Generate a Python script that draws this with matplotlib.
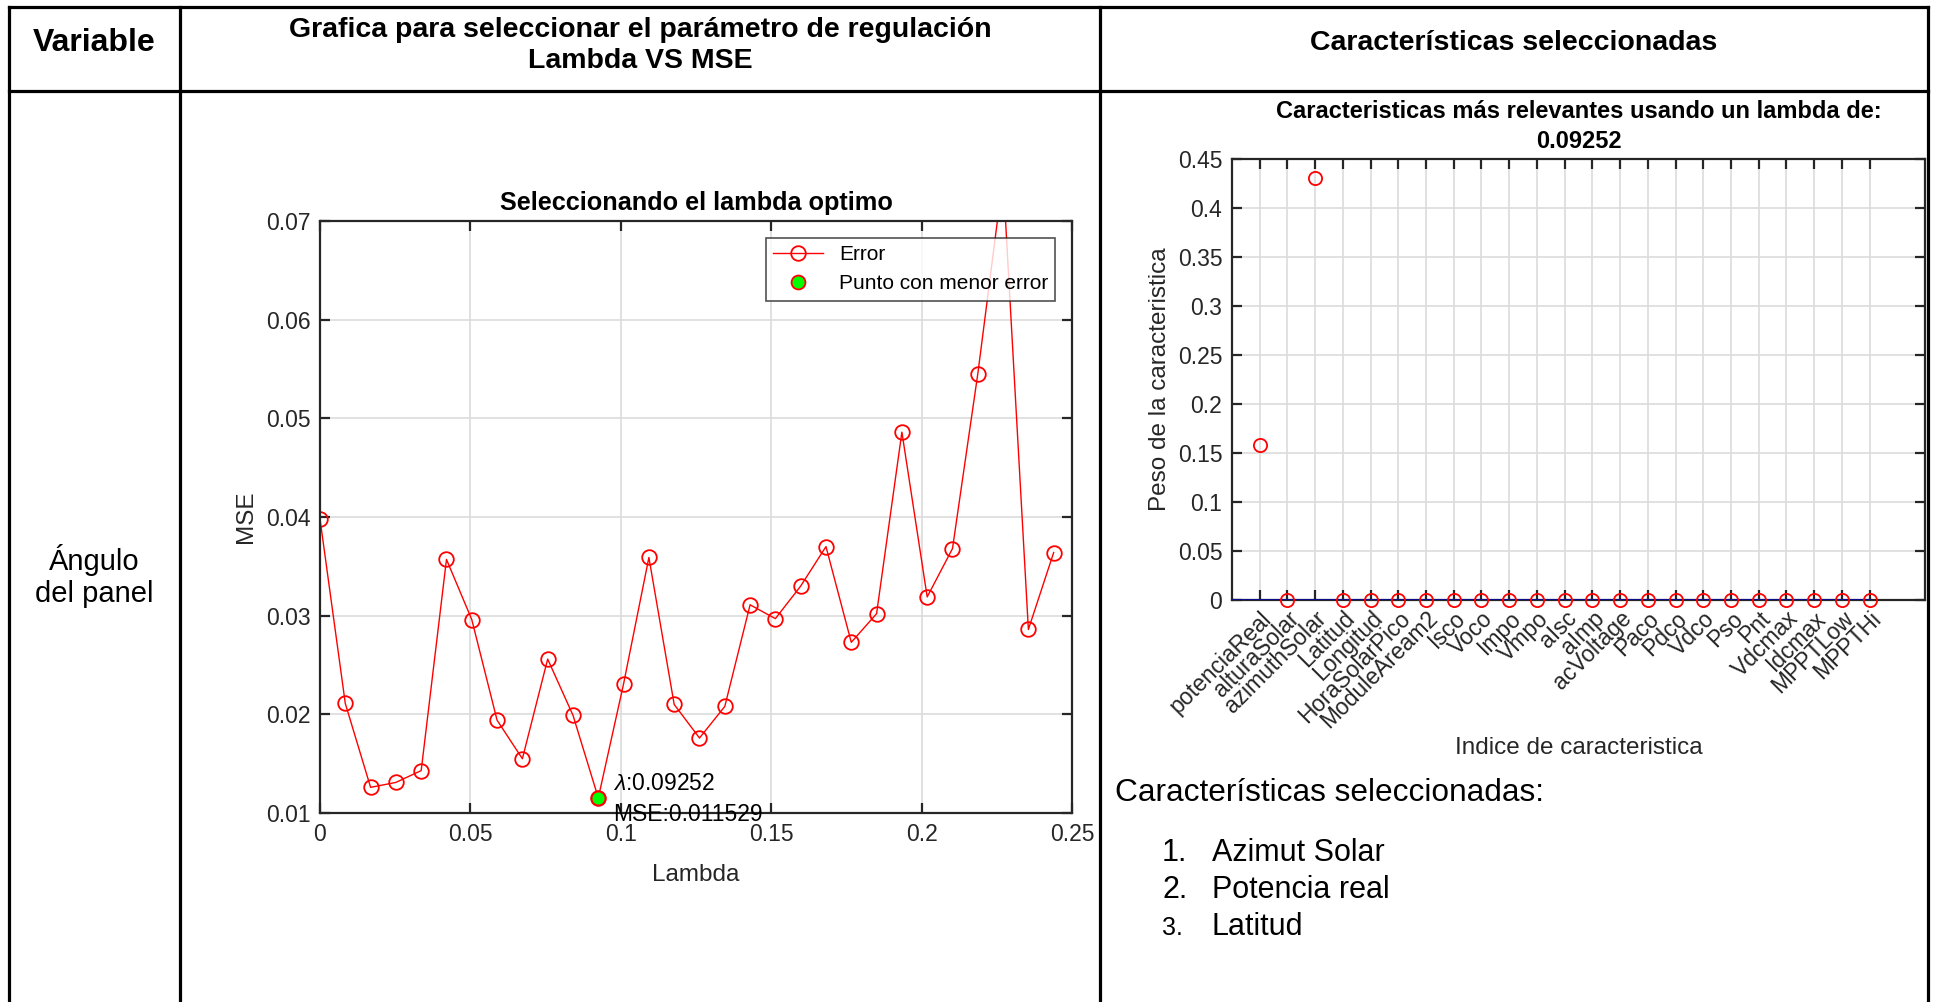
import matplotlib
matplotlib.use("Agg")
import matplotlib.pyplot as plt
from matplotlib import ticker

plt.rcParams['font.family'] = ['Liberation Sans', 'DejaVu Sans']
plt.rcParams['mathtext.fontset'] = 'custom'
plt.rcParams['mathtext.it'] = 'Liberation Sans:italic'
plt.rcParams['mathtext.rm'] = 'Liberation Sans'

# ---- data -------------------------------------------------------------
lambdas = [0.00000, 0.00841, 0.01682, 0.02523, 0.03364, 0.04205, 0.05046,
           0.05887, 0.06728, 0.07569, 0.08411, 0.09252, 0.10093, 0.10934,
           0.11775, 0.12616, 0.13457, 0.14298, 0.15139, 0.15980, 0.16821,
           0.17662, 0.18503, 0.19345, 0.20186, 0.21027, 0.21868, 0.22709,
           0.23550, 0.24391]
mse = [0.0398, 0.0211, 0.0126, 0.0131, 0.0143, 0.0357, 0.0296,
       0.0194, 0.0155, 0.0256, 0.0199, 0.011529, 0.0231, 0.0359,
       0.0210, 0.0176, 0.0208, 0.0311, 0.0297, 0.0330, 0.0370,
       0.0273, 0.0302, 0.0486, 0.0319, 0.0368, 0.0545, 0.0745,
       0.0286, 0.0364]

features = ['potenciaReal', 'alturaSolar', 'azimuthSolar', 'Latitud', 'Longitud',
            'HoraSolarPico', 'ModuleAream2', 'Isco', 'Voco', 'Impo', 'Vmpo',
            'aIsc', 'aImp', 'acVoltage', 'Paco', 'Pdco', 'Vdco', 'Pso', 'Pnt',
            'Vdcmax', 'Idcmax', 'MPPTLow', 'MPPTHi']
weights = [0.158, 0.0, 0.431, 0.0, 0.0, 0.0, 0.0, 0.0, 0.0, 0.0, 0.0, 0.0,
           0.0, 0.0, 0.0, 0.0, 0.0, 0.0, 0.0, 0.0, 0.0, 0.0, 0.0]

selected = ['Azimut Solar', 'Potencia real', 'Latitud']

# ---- figure ------------------------------------------------------------
W, H = 1937, 1002
fig = plt.figure(figsize=(W / 100, H / 100), dpi=100)

AX_COL = '#262626'
GRID_COL = '#dcdcdc'
TICK_FS = 16.5
LABEL_FS = 17.5


def px_axes(x0, y0, x1, y1):
    return fig.add_axes([x0 / W, 1 - y1 / H, (x1 - x0) / W, (y1 - y0) / H])


def matlab_style(ax):
    for s in ax.spines.values():
        s.set_color(AX_COL)
        s.set_linewidth(1.6)
    ax.tick_params(direction='in', top=True, right=True, length=7, width=1.6,
                   color=AX_COL, labelcolor=AX_COL, labelsize=TICK_FS, pad=7)
    ax.grid(True, color=GRID_COL, linewidth=1.2)
    ax.set_axisbelow(True)


# table layout
bg = fig.add_axes([0, 0, 1, 1], zorder=-5)
bg.set_xlim(0, W)
bg.set_ylim(H, 0)
bg.axis('off')
lw_tab = 2.3
for (x0, y0, x1, y1) in [(9, 7, 1928, 7), (9, 91, 1928, 91),
                         (9, 7, 9, H), (180, 7, 180, H),
                         (1100, 7, 1100, H), (1928, 7, 1928, H)]:
    bg.plot([x0, x1], [y0, y1], color='black', lw=lw_tab, solid_capstyle='projecting')

HEAD_FS = 20.5
bg.text(94.5, 43, 'Variable', ha='center', va='center', fontsize=23, fontweight='bold')
bg.text(640, 45, 'Grafica para seleccionar el parámetro de regulación\nLambda VS MSE',
        ha='center', va='center', fontsize=HEAD_FS, fontweight='bold', linespacing=1.25)
bg.text(1514, 43, 'Características seleccionadas', ha='center', va='center',
        fontsize=HEAD_FS, fontweight='bold')
bg.text(94.5, 576, 'Ángulo\ndel panel', ha='center', va='center', fontsize=21,
        linespacing=1.15)

# ---- lambda vs MSE -----------------------------------------------------
ax1 = px_axes(320, 221, 1072, 813)
matlab_style(ax1)
ax1.plot(lambdas, mse, color='red', lw=1.0, marker='o', markersize=10.5,
         markerfacecolor='none', markeredgecolor='red', markeredgewidth=1.3,
         label='Error', clip_on=True)
i_min = mse.index(min(mse))
lam_min, mse_min = lambdas[i_min], mse[i_min]
ax1.plot([lam_min], [mse_min], linestyle='none', marker='o', markersize=10,
         markerfacecolor='#00ff00', markeredgecolor='red', markeredgewidth=1.3,
         label='Punto con menor error', zorder=5)
ax1.set_xlim(0, 0.25)
ax1.set_ylim(0.01, 0.07)
ax1.set_xticks([0, 0.05, 0.1, 0.15, 0.2, 0.25])
ax1.set_yticks([0.01, 0.02, 0.03, 0.04, 0.05, 0.06, 0.07])
ax1.xaxis.set_major_formatter(ticker.FormatStrFormatter('%g'))
ax1.yaxis.set_major_formatter(ticker.FormatStrFormatter('%g'))
ax1.set_xlabel('Lambda', fontsize=LABEL_FS, color=AX_COL, labelpad=13)
ax1.set_ylabel('MSE', fontsize=LABEL_FS, color=AX_COL, labelpad=6)
ax1.set_title('Seleccionando el lambda optimo', fontsize=18.2,
              fontweight='bold', pad=8)
ax1.annotate(r'$\lambda$:' + f'{lam_min:.4g}' + '\n' + f'MSE:{mse_min:.5g}',
             xy=(lam_min, mse_min), xytext=(15, -1), textcoords='offset pixels',
             ha='left', va='center', fontsize=TICK_FS, color='black',
             linespacing=1.45, annotation_clip=False, zorder=6)
leg = ax1.legend(loc='upper right', fontsize=15, frameon=True, fancybox=False,
                 borderaxespad=0.8, handlelength=2.4, labelspacing=0.5,
                 borderpad=0.35, handletextpad=0.75)
leg.get_frame().set_edgecolor(AX_COL)
leg.get_frame().set_linewidth(1.2)

# ---- feature weights ---------------------------------------------------
ax2 = px_axes(1232, 159, 1925, 600)
matlab_style(ax2)
idx = list(range(1, len(features) + 1))
ax2.plot([0, idx[-1]], [0, 0], color='#0d0d8c', lw=2.2, zorder=3)
ax2.plot(idx, weights, linestyle='none', marker='o', markersize=9.5,
         markerfacecolor='none', markeredgecolor='red', markeredgewidth=1.3,
         zorder=4, clip_on=False)
ax2.set_xlim(0, len(features) + 2)
ax2.set_ylim(0, 0.45)
ax2.set_xticks(idx)
ax2.set_xticklabels(features, rotation=45, ha='right', va='top',
                    rotation_mode='anchor')
ax2.set_yticks([0, 0.05, 0.1, 0.15, 0.2, 0.25, 0.3, 0.35, 0.4, 0.45])
ax2.yaxis.set_major_formatter(ticker.FormatStrFormatter('%g'))
ax2.tick_params(axis='x', pad=5)
ax2.set_xlabel('Indice de caracteristica', fontsize=LABEL_FS, color=AX_COL, labelpad=3)
ax2.set_ylabel('Peso de la caracteristica', fontsize=LABEL_FS, color=AX_COL, labelpad=5)
ax2.set_title(f'Caracteristicas más relevantes usando un lambda de:\n{lam_min:.4g}',
              fontsize=17, fontweight='bold', pad=8, linespacing=1.4)

# ---- selected features list ---------------------------------------------
bg.text(1115, 801, 'Características seleccionadas:', ha='left', va='baseline',
        fontsize=22.8)
for k, name in enumerate(selected):
    yb = 861 + 37 * k
    bg.text(1162, yb, f'{k + 1}.', ha='left', va='baseline',
            fontsize=22 if k < 2 else 18)
    bg.text(1212, yb, name, ha='left', va='baseline', fontsize=22)

fig.savefig('out.png', dpi=100, facecolor='white')
